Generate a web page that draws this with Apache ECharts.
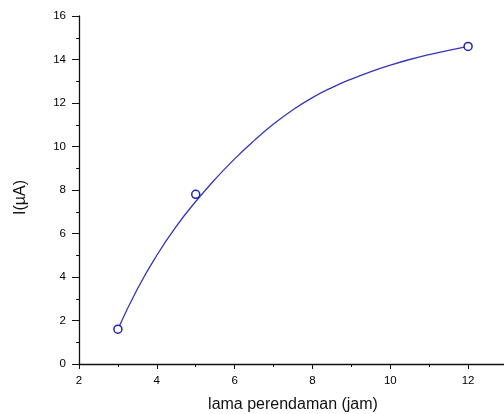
<!doctype html>
<html lang="en">
<head>
    <meta charset="utf-8" />
    <title>I vs lama perendaman</title>
    <script src="https://cdn.jsdelivr.net/npm/echarts@6/dist/echarts.min.js"></script>
    <style type="text/css">
        html, body { margin: 0; padding: 0; background: #fff; }
        #chart { width: 504px; height: 414px; }
    </style>
</head>
<body>
<div id="chart"></div>
<script>
    // measured points (jam, uA)
    var pointX = [3, 5, 12];
    var pointY = [1.6, 7.8, 14.6];

    // fitted curve
    var curveX = [3, 3.5, 4, 4.5, 5, 5.5, 6, 6.5, 7, 7.5, 8, 8.5, 9, 9.5, 10, 10.5, 11, 11.5, 12];
    var curveY = [1.6, 3.45, 5.0, 6.33, 7.47, 8.5, 9.43, 10.27, 11.03, 11.69, 12.25, 12.71, 13.1, 13.44, 13.74, 14.0, 14.22, 14.42, 14.6];

    var xTicks = [2, 4, 6, 8, 10, 12];
    var yTicks = [0, 2, 4, 6, 8, 10, 12, 14, 16];

    function zip(a, b) {
        var out = [];
        for (var i = 0; i < a.length; i++) {
            out.push([a[i], b[i]]);
        }
        return out;
    }

    var axisColor = '#111';
    var fontName = 'Liberation Sans, Arial, sans-serif';
    var labelFont = { color: '#000', fontSize: 11.5, fontFamily: fontName };

    var chart = echarts.init(document.getElementById('chart'));
    var option = {
        animation: false,
        grid: {
            left: 79,
            right: -3,
            top: 16,
            bottom: 50,
            outerBoundsMode: 'none'
        },
        xAxis: {
            type: 'value',
            min: xTicks[0],
            max: 13,
            interval: 2,
            name: 'lama perendaman (jam)',
            nameLocation: 'middle',
            nameGap: 33,
            nameTextStyle: { color: '#111', fontSize: 16, fontFamily: fontName },
            axisLine: { lineStyle: { color: axisColor, width: 1.3 } },
            axisTick: { show: true, length: 5, lineStyle: { color: axisColor } },
            minorTick: { show: true, splitNumber: 2, length: 3, lineStyle: { color: axisColor } },
            axisLabel: Object.assign({ margin: 11, showMaxLabel: false }, labelFont),
            splitLine: { show: false }
        },
        yAxis: {
            type: 'value',
            min: yTicks[0],
            max: yTicks[yTicks.length - 1],
            interval: 2,
            name: 'I(µA)',
            nameLocation: 'middle',
            nameGap: 50,
            nameTextStyle: { color: '#111', fontSize: 16, fontFamily: fontName, padding: [0, 15, 0, 0] },
            axisLine: { show: true, lineStyle: { color: axisColor, width: 1.3 } },
            axisTick: { show: true, length: 7, lineStyle: { color: axisColor } },
            minorTick: { show: true, splitNumber: 2, length: 3, lineStyle: { color: axisColor } },
            axisLabel: Object.assign({ margin: 13 }, labelFont),
            splitLine: { show: false }
        },
        series: [
            {
                name: 'fit',
                type: 'line',
                data: zip(curveX, curveY),
                smooth: 0.5,
                showSymbol: false,
                symbol: 'none',
                lineStyle: { color: '#3535b8', width: 1.3 },
                z: 2
            },
            {
                name: 'data',
                type: 'scatter',
                data: zip(pointX, pointY),
                symbol: 'circle',
                symbolSize: 8,
                itemStyle: { color: '#fff', borderColor: '#2222b0', borderWidth: 1.5, opacity: 1 },
                z: 3
            }
        ]
    };
    chart.setOption(option);
</script>
</body>
</html>
